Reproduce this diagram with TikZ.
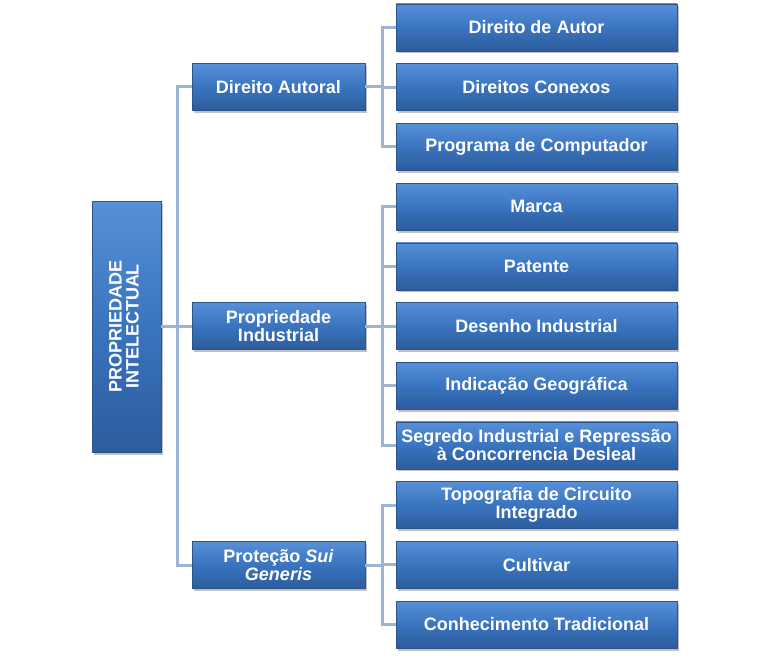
\documentclass[tikz,border=0pt]{standalone}
\usepackage{fontspec}
\setmainfont{Liberation Sans}
\usetikzlibrary{shadows}
\definecolor{boxtop}{HTML}{5790D8}
\definecolor{boxmid}{HTML}{3A74BF}
\definecolor{boxbot}{HTML}{2C5C9C}
\definecolor{boxedge}{HTML}{2B5487}
\definecolor{conncol}{HTML}{9DB3D8}
\tikzset{
  x=1pt, y=-1pt,
  boxbase/.style={draw=boxedge, line width=0.6pt, top color=boxtop, bottom color=boxbot, middle color=boxmid,
    text=white, font=\fontsize{18}{18}\selectfont\bfseries, align=center, inner sep=1pt,
    drop shadow={shadow xshift=2pt, shadow yshift=-2.5pt, opacity=0.35, fill=black!70}},
  midbox/.style={boxbase, minimum width=173pt, minimum height=47pt},
  leafbox/.style={boxbase, minimum width=281pt, minimum height=47pt},
  rootbox/.style={boxbase, minimum width=69pt, minimum height=251pt},
  conn/.style={draw=conncol, line width=3pt}
}
\begin{document}
\begin{tikzpicture}
\useasboundingbox (0,0) rectangle (768,658);
\coordinate (t) at (177,0);
\coordinate (b) at (382,0);
\node[rootbox] (root) at (126.5,326.5) {\rotatebox{90}{\begin{tabular}{@{}c@{}}PROPRIEDADE\\[-1pt]INTELECTUAL\end{tabular}}};
\node[midbox] (m1) at (278.5,87) {Direito Autoral};
\node[midbox] (m2) at (278.5,326) {Propriedade\\Industrial};
\node[midbox] (m3) at (278.5,565) {Proteção \textit{Sui}\\\textit{Generis}};
\node[leafbox] (l1) at (536.5,27.5) {Direito de Autor};
\node[leafbox] (l2) at (536.5,87.2) {Direitos Conexos};
\node[leafbox] (l3) at (536.5,146.9) {Programa de Computador};
\node[leafbox] (l4) at (536.5,206.6) {Marca};
\node[leafbox] (l5) at (536.5,266.3) {Patente};
\node[leafbox] (l6) at (536.5,326) {Desenho Industrial};
\node[leafbox] (l7) at (536.5,385.7) {Indicação Geográfica};
\node[leafbox] (l8) at (536.5,445.4) {Segredo Industrial e Repressão\\à Concorrencia Desleal};
\node[leafbox] (l9) at (536.5,505.1) {Topografia de Circuito\\Integrado};
\node[leafbox] (l10) at (536.5,564.8) {Cultivar};
\node[leafbox] (l11) at (536.5,624.5) {Conhecimento Tradicional};
\draw[conn] (root.east) -- (root.east -| t);
\foreach \m in {m1,m2,m3} \draw[conn] (root.east -| t) |- (\m.west);
\foreach \l in {l1,l2,l3} \draw[conn] (m1.east) -- (m1.east -| b) |- (\l.west);
\foreach \l in {l4,l5,l6,l7,l8} \draw[conn] (m2.east) -- (m2.east -| b) |- (\l.west);
\foreach \l in {l9,l10,l11} \draw[conn] (m3.east) -- (m3.east -| b) |- (\l.west);
\end{tikzpicture}
\end{document}
